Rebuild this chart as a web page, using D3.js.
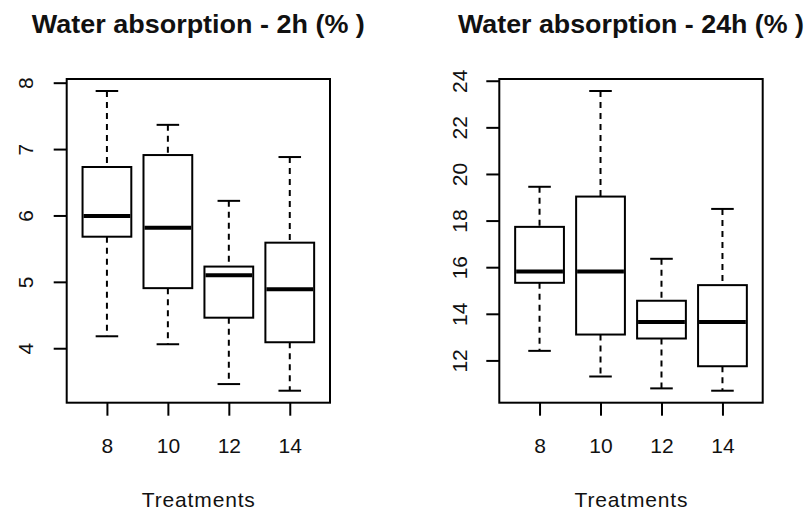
<!DOCTYPE html>
<html>
<head>
<meta charset="utf-8">
<script src="https://cdn.jsdelivr.net/npm/d3@7"></script>
<style>
  body { margin: 0; background: #fff; }
  text { font-family: "Liberation Sans", Arial, sans-serif; fill: #111; }
</style>
</head>
<body>
<svg id="chart" width="811" height="513" viewBox="0 0 811 513"></svg>
<script>
// treatments on the x axis
const treatments = ["8", "10", "12", "14"]

// box stats: [lower whisker, Q1, median, Q3, upper whisker]
const abs2h = [
    [4.18, 5.68, 5.99, 6.73, 7.875],
    [4.06, 4.905, 5.815, 6.91, 7.365],
    [3.46, 4.46, 5.10, 5.23, 6.22],
    [3.36, 4.09, 4.89, 5.59, 6.88]
]
const abs24h = [
    [12.41, 15.33, 15.82, 17.73, 19.45],
    [11.31, 13.11, 15.82, 19.03, 23.56],
    [10.80, 12.94, 13.65, 14.56, 16.36],
    [10.70, 11.75, 13.65, 15.23, 18.50]
]
const ticks2h = [4, 5, 6, 7, 8]
const ticks24h = [12, 14, 16, 18, 20, 22, 24]

const titles = ["Water absorption - 2h (% )", "Water absorption - 24h (% )"]
const xTitle = "Treatments"

const svg = d3.select("#chart")

function boxPanel(svg, stats, yTicks, title, box)
{
    const g = svg.append("g")

    // R style: xlim 0.5..n+0.5 plus 4% on each side
    const n = stats.length
    const xs = d3.scaleLinear()
        .domain([0.5 - n * 0.04, n + 0.5 + n * 0.04])
        .range([box.left, box.right])

    const ext = [d3.min(stats, d => d[0]), d3.max(stats, d => d[4])]
    const pad = (ext[1] - ext[0]) * 0.04
    const ys = d3.scaleLinear()
        .domain([ext[0] - pad, ext[1] + pad])
        .range([box.bottom, box.top])

    const halfBox = 0.4
    const halfCap = 0.185

    const boxes = g.selectAll(".bx")
        .data(stats)
        .enter()
        .append("g")
        .attr("class", "bx")

    // whiskers
    boxes.append("line")
        .attr("x1", (d, i) => xs(i + 1)).attr("x2", (d, i) => xs(i + 1))
        .attr("y1", d => ys(d[4])).attr("y2", d => ys(d[3]))
        .attr("stroke", "#000").attr("stroke-width", 2).attr("stroke-dasharray", "6,5")
    boxes.append("line")
        .attr("x1", (d, i) => xs(i + 1)).attr("x2", (d, i) => xs(i + 1))
        .attr("y1", d => ys(d[1])).attr("y2", d => ys(d[0]))
        .attr("stroke", "#000").attr("stroke-width", 2).attr("stroke-dasharray", "6,5")

    // staples
    boxes.append("line")
        .attr("x1", (d, i) => xs(i + 1 - halfCap)).attr("x2", (d, i) => xs(i + 1 + halfCap))
        .attr("y1", d => ys(d[4])).attr("y2", d => ys(d[4]))
        .attr("stroke", "#000").attr("stroke-width", 2)
    boxes.append("line")
        .attr("x1", (d, i) => xs(i + 1 - halfCap)).attr("x2", (d, i) => xs(i + 1 + halfCap))
        .attr("y1", d => ys(d[0])).attr("y2", d => ys(d[0]))
        .attr("stroke", "#000").attr("stroke-width", 2)

    boxes.append("rect")
        .attr("x", (d, i) => xs(i + 1 - halfBox))
        .attr("width", (d, i) => xs(i + 1 + halfBox) - xs(i + 1 - halfBox))
        .attr("y", d => ys(d[3]))
        .attr("height", d => ys(d[1]) - ys(d[3]))
        .attr("fill", "#fff").attr("stroke", "#000").attr("stroke-width", 2)

    // median
    boxes.append("line")
        .attr("x1", (d, i) => xs(i + 1 - halfBox) + 1).attr("x2", (d, i) => xs(i + 1 + halfBox) - 1)
        .attr("y1", d => ys(d[2])).attr("y2", d => ys(d[2]))
        .attr("stroke", "#000").attr("stroke-width", 4)

    // frame
    g.append("rect")
        .attr("x", box.left).attr("y", box.top)
        .attr("width", box.right - box.left).attr("height", box.bottom - box.top)
        .attr("fill", "none").attr("stroke", "#000").attr("stroke-width", 2)

    const yAxis = g.append("g")
        .attr("transform", `translate(${box.left},0)`)
        .call(d3.axisLeft(ys).tickValues(yTicks).tickSize(13).tickFormat(d3.format("d")))
    yAxis.selectAll(".domain").remove()
    yAxis.selectAll(".tick line").attr("stroke-width", 2)
    yAxis.selectAll(".tick text")
        .attr("x", 0).attr("dy", 0)
        .attr("transform", `translate(${box.yLab},0) rotate(-90)`)
        .attr("text-anchor", "middle")
        .style("font-size", "21px").style("font-family", null)
        .attr("fill", "#111")

    const xAxis = g.append("g")
        .attr("transform", `translate(0,${box.bottom})`)
        .call(d3.axisBottom(xs).tickValues(d3.range(1, n + 1)).tickSize(13).tickFormat((d, i) => treatments[i]))
    xAxis.selectAll(".domain").remove()
    xAxis.selectAll(".tick line").attr("stroke-width", 2)
    xAxis.selectAll(".tick text")
        .attr("y", 50).attr("dy", 0)
        .style("font-size", "21px").style("font-family", null)
        .attr("fill", "#111")

    const cx = (box.left + box.right) / 2
    g.append("text")
        .attr("x", cx).attr("y", 33)
        .attr("text-anchor", "middle")
        .attr("textLength", box.titleW).attr("lengthAdjust", "spacingAndGlyphs")
        .style("font-size", "25px").style("font-weight", "bold")
        .text(title)

    g.append("text")
        .attr("x", cx).attr("y", 507)
        .attr("text-anchor", "middle")
        .attr("textLength", 113).attr("lengthAdjust", "spacing")
        .style("font-size", "21px")
        .text(xTitle)
}

boxPanel(svg, abs2h, ticks2h, titles[0],
    { left: 66.7, right: 330, top: 79, bottom: 402.7, yLab: -34, titleW: 333 })
boxPanel(svg, abs24h, ticks24h, titles[1],
    { left: 499.3, right: 762.7, top: 79, bottom: 402.7, yLab: -32, titleW: 346 })
</script>
</body>
</html>
